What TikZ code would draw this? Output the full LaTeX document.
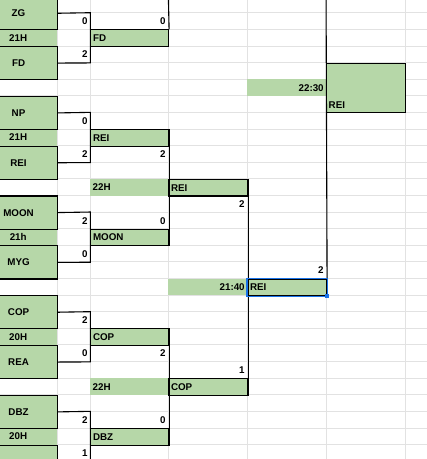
\documentclass[tikz,border=0pt]{standalone}
\usepackage{fontspec}
\setmainfont{Liberation Sans}
\definecolor{cellgreen}{HTML}{B6D7A8}
\definecolor{gridgray}{HTML}{E2E2E2}
\definecolor{selblue}{HTML}{1A73E8}

\begin{document}
\begin{tikzpicture}[x=1pt,y=-16.61pt,
  cell/.style={anchor=north west,inner sep=0pt,minimum height=16.61pt,
    text height=7pt,text depth=0pt,font=\fontsize{9.8}{11}\selectfont\bfseries},
  grn/.style={fill=cellgreen},
  bx/.style={draw=black,line width=1.1pt},
  rt/.style={text width=#1,inner xsep=2.5pt,align=right},
  lf/.style={text width=#1,inner xsep=2.5pt,align=left},
  team/.style={cell,grn,bx,minimum width=78pt,minimum height=33.22pt},
  hour/.style={cell,grn,minimum width=78pt},
  wire/.style={line width=1.1pt}]
  \useasboundingbox (0,-0.7646) rectangle (427,26.87);
  \clip (0,-0.7646) rectangle (427,26.87);

  % sheet grid
  \foreach \r in {-1,...,27}
    \draw[gridgray,line width=0.8pt] (-21,\r) -- (427,\r);
  \foreach \c in {57,90,168,247,326,405}
    \draw[gridgray,line width=0.8pt] (\c,-1) -- (\c,28);

  % start times
  \node[hour] (t1) at (-21,1) {21H};
  \node[hour] (t2) at (-21,7) {21H};
  \node[hour] (t3) at (-21,13) {21h};
  \node[hour] (t4) at (-21,19) {20H};
  \node[hour] (t5) at (-21,25) {20H};
  \node[cell,grn,lf=73pt] (q1) at (90,10) {22H};
  \node[cell,grn,lf=73pt] (q2) at (90,22) {22H};
  \node[cell,grn,rt=74pt] (sf) at (168,16) {21:40};
  \node[cell,grn,rt=74pt] (fin) at (247,4) {22:30};

  % scores, first round
  \node[cell,rt=28pt] (a1) at (57,0) {0};
  \node[cell,rt=28pt] (a2) at (57,2) {2};
  \node[cell,rt=28pt] (b1) at (57,6) {0};
  \node[cell,rt=28pt] (b2) at (57,8) {2};
  \node[cell,rt=28pt] (c1) at (57,12) {2};
  \node[cell,rt=28pt] (c2) at (57,14) {0};
  \node[cell,rt=28pt] (d1) at (57,18) {2};
  \node[cell,rt=28pt] (d2) at (57,20) {0};
  \node[cell,rt=28pt] (e1) at (57,24) {2};
  \node[cell,rt=28pt] (e2) at (57,26) {1};
  % scores, later rounds
  \node[cell,rt=73pt] (fdsc) at (90,0) {0};
  \node[cell,rt=73pt] (reisc) at (90,8) {2};
  \node[cell,rt=73pt] (moonsc) at (90,12) {0};
  \node[cell,rt=73pt] (copsc) at (90,20) {2};
  \node[cell,rt=73pt] (dbzsc) at (90,24) {0};
  \node[cell,rt=74pt] (semi1) at (168,11) {2};
  \node[cell,rt=74pt] (semi2) at (168,21) {1};
  \node[cell,rt=74pt] (last) at (247,15) {2};

  % teams
  \node[team] (zg) at (-21,-1) {ZG};
  \node[team] (fd) at (-21,2) {FD};
  \node[team] (np) at (-21,5) {NP};
  \node[team] (rei) at (-21,8) {REI};
  \node[team] (moon) at (-21,11) {MOON};
  \node[team] (myg) at (-21,14) {MYG};
  \node[team] (cop) at (-21,17) {COP};
  \node[team] (rea) at (-21,20) {REA};
  \node[team] (dbz) at (-21,23) {DBZ};
  \node[team] (za) at (-21,26) {};

  % winners
  \node[cell,grn,bx,lf=73pt] (fdC) at (90,1) {FD};
  \node[cell,grn,bx,lf=73pt] (reiC) at (90,7) {REI};
  \node[cell,grn,bx,lf=73pt] (moonC) at (90,13) {MOON};
  \node[cell,grn,bx,lf=73pt] (copC) at (90,19) {COP};
  \node[cell,grn,bx,lf=73pt] (dbzC) at (90,25) {DBZ};
  \node[cell,grn,bx,lf=74pt] (reiD) at (168,10) {REI};
  \node[cell,grn,bx,lf=74pt] (copD) at (168,22) {COP};
  \node[cell,grn,bx,lf=74pt] (reiE) at (247,16) {REI};
  \node[cell,grn,bx,minimum width=79pt,minimum height=49.83pt] (reiF) at (326,3) {};
  \node[cell,anchor=south west,inner xsep=2.5pt] (reiFt) at (reiF.south west) {REI};

  % brackets
  \draw[wire] (zg.east) -- (a1.north east) -- (a2.south east) -- (fd.east);
  \draw[wire] (np.east) -- (b1.north east) -- (b2.south east) -- (rei.east);
  \draw[wire] (moon.east) -- (c1.north east) -- (c2.south east) -- (myg.east);
  \draw[wire] (cop.east) -- (d1.north east) -- (d2.south east) -- (rea.east);
  \draw[wire] (dbz.east) -- (e1.north east) -- (e2.south east) -- (za.east);
  \coordinate (upC) at (168,-2);
  \coordinate (upE) at (326,-2);
  \draw[wire] (upC) -- (fdC.north east);
  \draw[wire] (reiC.north east) -- (moonC.south east);
  \draw[wire] (copC.north east) -- (dbzC.south east);
  \draw[wire] (reiD.north east) -- (copD.south east);
  \draw[wire] (upE) -- (reiE.north east);

  % selected cell
  \draw[selblue,line width=1.1pt] (reiE.north west) rectangle (reiE.south east);
  \node[fill=selblue,inner sep=0pt,minimum size=4.5pt] (grip) at (reiE.south east) {};
\end{tikzpicture}
\end{document}
